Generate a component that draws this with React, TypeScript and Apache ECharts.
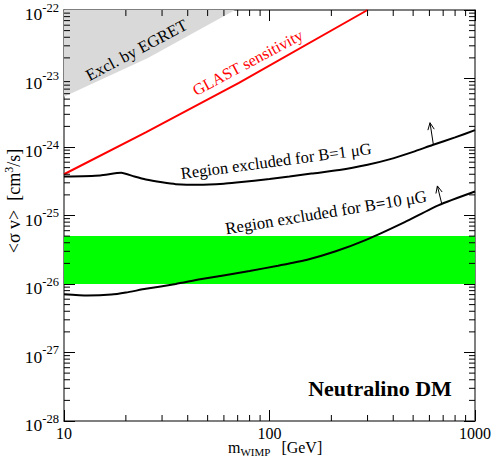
import React, { useEffect, useRef } from 'react';
import * as echarts from 'echarts';

const FONT = "'Liberation Serif'";

// axis ranges
const X_MIN = 10;
const X_MAX = 1000;
const Y_MIN = 1e-28;
const Y_MAX = 1e-22;
// y values are scaled so the log axis works with plain numbers
const Y_EXP0 = -28;
const YS = 1e28;

// minor tick positions
const X_MINOR = [20, 30, 40, 50, 60, 70, 80, 90, 200, 300, 400, 500, 600, 700, 800, 900];
const Y_DECADES = [-28, -27, -26, -25, -24, -23];
const MANTISSAS = [2, 3, 4, 5, 6, 7, 8, 9];

// EGRET exclusion boundary
const egretX = [10, 25.6, 68];
const egretY = [5.4e-24, 2.0e-23, 1.0e-22];

// GLAST sensitivity
const glastX = [10, 25, 71, 300];
const glastY = [4.0e-25, 1.63e-24, 8.6e-24, 1.0e-22];

// Region excluded for B = 1 muG
const b1X = [10, 15, 19, 22, 25, 30, 35, 45, 60, 71, 100, 125, 160, 219, 300, 383, 500, 621, 800, 1000];
const b1Y = [3.7e-25, 3.85e-25, 4.2e-25, 3.7e-25, 3.35e-25, 3.05e-25, 2.87e-25, 2.8e-25, 2.9e-25, 3.05e-25,
  3.4e-25, 3.7e-25, 4.1e-25, 4.6e-25, 5.5e-25, 6.6e-25, 8.5e-25, 1.07e-24, 1.38e-24, 1.76e-24];

// Region excluded for B = 10 muG
const b10X = [10, 13, 17, 20, 25, 35, 46, 80, 110, 151, 210, 295, 455, 667, 1000];
const b10Y = [7.1e-27, 6.8e-27, 7.0e-27, 7.5e-27, 8.5e-27, 1.0e-26, 1.17e-26, 1.55e-26, 1.85e-26, 2.24e-26,
  3.0e-26, 4.4e-26, 8.0e-26, 1.42e-25, 2.24e-25];

// thermal relic band
const bandLow = 1e-26;
const bandHigh = 5e-26;

// arrows: [xFrom, yFrom, xTo, yTo]
const arrowsData = [
  [627, 1.09e-24, 604, 2.26e-24],
  [689, 1.48e-25, 656, 2.7e-25],
];

const sc = (y: number) => y * YS;

export default function App() {
  const ref = useRef<HTMLDivElement>(null);
  useEffect(() => {
    if (!ref.current) return;
    const chart = echarts.init(ref.current, null, { renderer: 'svg' });

    const yMinor: number[] = [];
    Y_DECADES.forEach((d) => MANTISSAS.forEach((m) => yMinor.push(m * Math.pow(10, d))));

    const frame = { show: true, lineStyle: { color: '#555', width: 1.5 } };
    const tickStyle = { color: '#000', width: 1 };

    const option: any = {
      animation: false,
      textStyle: { fontFamily: FONT },
      grid: { left: 64, right: 18, top: 10, bottom: 42, show: false },
      xAxis: [
        {
          type: 'log', logBase: 10, min: X_MIN, max: X_MAX, position: 'bottom',
          axisLine: frame,
          axisTick: { show: true, inside: true, length: 11, lineStyle: tickStyle },
          splitLine: { show: false },
          axisLabel: { show: true, margin: 4, color: '#000', fontFamily: FONT, fontSize: 16,
            formatter: (v: number) => String(Math.round(v)) },
        },
        {
          type: 'log', logBase: 10, min: X_MIN, max: X_MAX, position: 'top',
          axisLine: frame,
          axisTick: { show: true, inside: true, length: 11, lineStyle: tickStyle },
          splitLine: { show: false },
          axisLabel: { show: false },
        },
      ],
      yAxis: [
        {
          type: 'log', logBase: 10, min: sc(Y_MIN), max: sc(Y_MAX), position: 'left',
          axisLine: frame,
          axisTick: { show: true, inside: true, length: 11, lineStyle: tickStyle },
          splitLine: { show: false },
          axisLabel: {
            show: true, margin: 5, color: '#000', fontFamily: FONT,
            formatter: (v: number) => `{b|10}{e|${Math.round(Math.log10(v)) + Y_EXP0}}`,
            rich: {
              b: { fontFamily: FONT, fontSize: 17.5, color: '#000', padding: [8, 0, 0, 0] },
              e: { fontFamily: FONT, fontSize: 12.5, color: '#000', padding: [0, 0, 5, 0] },
            },
          },
        },
        {
          type: 'log', logBase: 10, min: sc(Y_MIN), max: sc(Y_MAX), position: 'right',
          axisLine: frame,
          axisTick: { show: true, inside: true, length: 11, lineStyle: tickStyle },
          splitLine: { show: false },
          axisLabel: { show: false },
        },
      ],
      series: [
        {
          type: 'custom', name: 'EGRET', silent: true, z: 1,
          data: [[X_MIN, sc(Y_MAX)]],
          renderItem: (_p: any, api: any) => {
            const pts = egretX.map((x, i) => api.coord([x, sc(egretY[i])]));
            pts.push(api.coord([X_MIN, sc(Y_MAX)]));
            return { type: 'polygon', shape: { points: pts }, style: { fill: '#d9d9d9' } };
          },
        },
        {
          type: 'custom', name: 'band', silent: true, z: 1,
          data: [[X_MIN, sc(bandLow)]],
          renderItem: (_p: any, api: any) => {
            const pts = [
              api.coord([X_MIN, sc(bandLow)]),
              api.coord([X_MAX, sc(bandLow)]),
              api.coord([X_MAX, sc(bandHigh)]),
              api.coord([X_MIN, sc(bandHigh)]),
            ];
            return { type: 'polygon', shape: { points: pts }, style: { fill: '#00ff00' } };
          },
        },
        {
          type: 'line', name: 'GLAST', z: 3, symbol: 'none', silent: true,
          data: glastX.map((x, i) => [x, sc(glastY[i])]),
          lineStyle: { color: '#ff0000', width: 2 },
        },
        {
          type: 'line', name: 'B1', z: 3, symbol: 'none', silent: true, smooth: 0.2,
          data: b1X.map((x, i) => [x, sc(b1Y[i])]),
          lineStyle: { color: '#000', width: 2 },
        },
        {
          type: 'line', name: 'B10', z: 3, symbol: 'none', silent: true, smooth: 0.2,
          data: b10X.map((x, i) => [x, sc(b10Y[i])]),
          lineStyle: { color: '#000', width: 2 },
        },
        {
          type: 'custom', name: 'arrows', silent: true, z: 4,
          data: arrowsData.map((a) => [a[0], sc(a[1]), a[2], sc(a[3])]),
          renderItem: (_p: any, api: any) => {
            const p0 = api.coord([api.value(0), api.value(1)]);
            const p1 = api.coord([api.value(2), api.value(3)]);
            const dx = p1[0] - p0[0];
            const dy = p1[1] - p0[1];
            const len = Math.hypot(dx, dy) || 1;
            const ux = dx / len, uy = dy / len;
            const hl = 7, hw = 3.2;
            const l = [p1[0] - ux * hl - uy * hw, p1[1] - uy * hl + ux * hw];
            const r = [p1[0] - ux * hl + uy * hw, p1[1] - uy * hl - ux * hw];
            return {
              type: 'group',
              children: [
                { type: 'line', shape: { x1: p0[0], y1: p0[1], x2: p1[0], y2: p1[1] }, style: { stroke: '#000', lineWidth: 1 } },
                { type: 'polyline', shape: { points: [l, p1, r] }, style: { stroke: '#000', lineWidth: 1, fill: 'none' } },
              ],
            };
          },
        },
        {
          type: 'custom', name: 'xminor', silent: true, z: 5,
          data: X_MINOR.map((x) => [x, sc(Y_MIN)]),
          renderItem: (_p: any, api: any) => {
            const b = api.coord([api.value(0), sc(Y_MIN)]);
            const t = api.coord([api.value(0), sc(Y_MAX)]);
            return {
              type: 'group',
              children: [
                { type: 'line', shape: { x1: b[0], y1: b[1], x2: b[0], y2: b[1] - 6 }, style: { stroke: '#000', lineWidth: 1 } },
                { type: 'line', shape: { x1: t[0], y1: t[1], x2: t[0], y2: t[1] + 6 }, style: { stroke: '#000', lineWidth: 1 } },
              ],
            };
          },
        },
        {
          type: 'custom', name: 'yminor', silent: true, z: 5,
          data: yMinor.map((y) => [X_MIN, sc(y)]),
          renderItem: (_p: any, api: any) => {
            const l = api.coord([X_MIN, api.value(1)]);
            const r = api.coord([X_MAX, api.value(1)]);
            return {
              type: 'group',
              children: [
                { type: 'line', shape: { x1: l[0], y1: l[1], x2: l[0] + 6, y2: l[1] }, style: { stroke: '#000', lineWidth: 1 } },
                { type: 'line', shape: { x1: r[0], y1: r[1], x2: r[0] - 6, y2: r[1] }, style: { stroke: '#000', lineWidth: 1 } },
              ],
            };
          },
        },
      ],
      graphic: [
        {
          type: 'text', z: 100, x: 136.5, y: 50, rotation: (28 * Math.PI) / 180,
          style: { text: 'Excl. by EGRET', fontFamily: FONT, fontSize: 16.5, fill: '#000', align: 'center', verticalAlign: 'middle' },
        },
        {
          type: 'text', z: 100, x: 248, y: 63, rotation: (28 * Math.PI) / 180,
          style: { text: 'GLAST sensitivity', fontFamily: FONT, fontSize: 16.2, fill: '#ff0000', align: 'center', verticalAlign: 'middle' },
        },
        {
          type: 'text', z: 100, x: 276, y: 161, rotation: (7.5 * Math.PI) / 180,
          style: { text: 'Region excluded for B=1 \u03bcG', fontFamily: FONT, fontSize: 16.5, fill: '#000', align: 'center', verticalAlign: 'middle' },
        },
        {
          type: 'text', z: 100, x: 326, y: 212.5, rotation: (9.2 * Math.PI) / 180,
          style: { text: 'Region excluded for B=10 \u03bcG', fontFamily: FONT, fontSize: 16.8, fill: '#000', align: 'center', verticalAlign: 'middle' },
        },
        {
          type: 'text', z: 100, x: 380, y: 388,
          style: { text: 'Neutralino DM', fontFamily: FONT, fontSize: 22, fontWeight: 'bold', fill: '#000', align: 'center', verticalAlign: 'middle' },
        },
        {
          type: 'text', z: 100, x: 228, y: 447,
          style: {
            text: '{a|m}{s|WIMP}{g| }{a|[GeV]}', align: 'left', verticalAlign: 'middle',
            rich: {
              a: { fontFamily: FONT, fontSize: 16, fill: '#000' },
              s: { fontFamily: FONT, fontSize: 11, fill: '#000', padding: [9, 0, 0, 0] },
              g: { fontFamily: FONT, fontSize: 16, fill: '#000', padding: [0, 7, 0, 0] },
            },
          },
        },
        {
          type: 'text', z: 100, x: 14, y: 201, rotation: Math.PI / 2,
          style: {
            text: '{a|<\u03c3 v>  [cm}{p|3}{a|/s]}', align: 'center', verticalAlign: 'middle',
            rich: {
              a: { fontFamily: FONT, fontSize: 18, fill: '#000' },
              p: { fontFamily: FONT, fontSize: 12, fill: '#000', padding: [0, 0, 10, 0] },
            },
          },
        },
      ],
    };

    chart.setOption(option);
    return () => chart.dispose();
  }, []);

  return <div ref={ref} style={{ position: 'fixed', left: 0, top: 0, width: 494, height: 463, background: '#fff' }} />;
}
